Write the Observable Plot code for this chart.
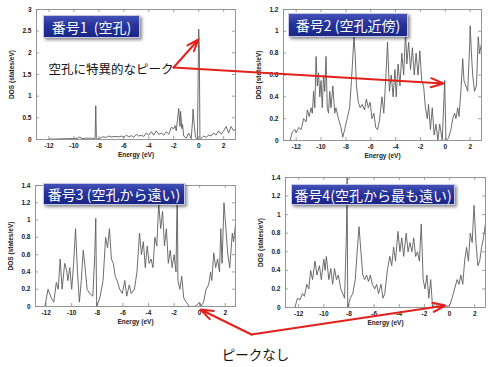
<!DOCTYPE html>
<html><head><meta charset="utf-8">
<script src="https://cdn.jsdelivr.net/npm/d3@7"></script>
<script src="https://cdn.jsdelivr.net/npm/@observablehq/plot@0.6"></script>
<style>
body{margin:0;background:#fff;}
#root{position:relative;width:498px;height:367px;overflow:hidden;background:#fff;}
.panel{position:absolute;}
.title{position:absolute;display:flex;align-items:center;justify-content:center;color:#fff;
 font-family:"Noto Sans CJK JP","Noto Sans";font-size:14px;white-space:pre;box-sizing:border-box;
 background:linear-gradient(to bottom,#4452b8 0%,#26339a 45%,#1a2585 100%);
 border:1px solid #c4c8e6;box-shadow:2px 2px 3px rgba(0,0,0,.45);}
#overlay{position:absolute;left:0;top:0;}
</style></head>
<body><div id="root"></div>
<script>
// ---- data ----
const energy1 = [-12.1,-12.0,-11.5,-11.0,-10.5,-10.0,-9.7,-9.5,-9.4,-9.0,-8.6,-8.3,-8.25,-8.2,-8.15,-8.0,-7.7,-7.4,-7.2,-7.0,-6.7,-6.4,-6.2,-6.0,-5.8,-5.6,-5.4,-5.2,-5.0,-4.8,-4.6,-4.4,-4.2,-4.0,-3.8,-3.6,-3.4,-3.2,-3.0,-2.8,-2.6,-2.4,-2.2,-2.0,-1.9,-1.8,-1.7,-1.6,-1.5,-1.45,-1.35,-1.3,-1.2,-1.0,-0.8,-0.6,-0.5,-0.45,-0.35,-0.25,-0.1,0.0,0.05,0.1,0.2,0.4,0.6,0.8,1.0,1.2,1.4,1.6,1.8,2.0,2.2,2.4,2.6,2.8,2.95];
const dos1 = [0.0,0.01,0.01,0.015,0.02,0.02,0.03,0.06,0.02,0.03,0.03,0.02,0.78,0.05,0.0,0.02,0.06,0.05,0.08,0.06,0.07,0.06,0.08,0.05,0.1,0.06,0.09,0.05,0.12,0.08,0.1,0.07,0.15,0.1,0.18,0.1,0.2,0.12,0.15,0.1,0.18,0.12,0.28,0.25,0.32,0.2,0.45,0.72,0.3,0.65,0.25,0.35,0.08,0.03,0.15,0.02,0.4,0.7,0.3,0.05,0.0,2.55,2.1,0.0,0.03,0.08,0.05,0.1,0.08,0.15,0.1,0.2,0.12,0.2,0.3,0.15,0.3,0.2,0.25];

const energy2 = [-12.5,-12.3,-12.1,-12.0,-11.8,-11.6,-11.4,-11.2,-11.1,-10.95,-10.8,-10.7,-10.6,-10.5,-10.4,-10.3,-10.2,-10.1,-10.0,-9.9,-9.8,-9.7,-9.6,-9.5,-9.4,-9.3,-9.2,-9.05,-8.9,-8.8,-8.6,-8.4,-8.25,-8.1,-7.9,-7.7,-7.55,-7.45,-7.35,-7.25,-7.15,-7.0,-6.85,-6.7,-6.5,-6.35,-6.2,-6.05,-5.9,-5.75,-5.6,-5.45,-5.3,-5.1,-4.95,-4.8,-4.65,-4.5,-4.35,-4.2,-4.05,-3.95,-3.8,-3.65,-3.5,-3.35,-3.2,-3.1,-2.95,-2.8,-2.65,-2.5,-2.35,-2.2,-2.05,-1.9,-1.75,-1.6,-1.45,-1.35,-1.2,-1.05,-0.9,-0.75,-0.6,-0.45,-0.25,-0.05,0.05,0.25,0.45,0.6,0.75,0.85,1.0,1.1,1.25,1.4,1.5,1.65,1.8,1.95,2.0,2.1,2.2,2.35,2.5,2.65,2.75,2.9];
const dos2 = [0.0,0.08,0.1,0.07,0.12,0.1,0.2,0.17,0.28,0.22,0.3,0.25,0.45,0.3,0.77,0.5,0.62,0.4,0.55,0.3,0.6,0.45,0.77,0.3,0.25,0.45,0.3,0.5,0.25,0.3,0.2,0.12,0.03,0.1,0.2,0.3,0.55,0.75,0.95,0.78,0.5,0.35,0.3,0.33,0.28,0.38,0.3,0.35,0.2,0.25,0.12,0.1,0.18,0.4,0.25,0.55,0.9,0.45,0.6,0.4,0.65,0.4,0.7,0.5,0.8,0.6,1.0,0.7,0.9,0.65,0.85,0.6,0.8,0.6,0.82,0.55,0.5,0.3,0.2,0.33,0.1,0.3,0.05,0.15,0.0,0.15,0.0,0.55,0.0,0.02,0.1,0.2,0.25,0.2,0.3,0.22,0.45,0.75,0.55,0.5,0.45,0.85,1.05,0.8,0.6,0.45,0.5,0.95,0.8,0.88];

const energy3 = [-12.1,-11.85,-11.6,-11.4,-11.2,-11.05,-10.9,-10.75,-10.55,-10.4,-10.3,-10.15,-10.0,-9.85,-9.7,-9.55,-9.4,-9.25,-9.1,-8.95,-8.8,-8.6,-8.35,-8.2,-8.12,-8.05,-7.8,-7.55,-7.35,-7.2,-7.05,-6.9,-6.75,-6.6,-6.45,-6.25,-6.05,-5.85,-5.7,-5.5,-5.35,-5.1,-4.9,-4.7,-4.55,-4.4,-4.25,-4.1,-3.95,-3.8,-3.65,-3.5,-3.35,-3.2,-3.05,-2.9,-2.75,-2.6,-2.45,-2.3,-2.15,-2.0,-1.85,-1.75,-1.7,-1.55,-1.4,-1.25,-1.05,-0.8,-0.4,-0.2,0.0,0.1,0.3,0.5,0.7,0.85,0.95,1.1,1.25,1.4,1.55,1.65,1.75,1.9,2.05,2.2,2.35,2.55,2.65,2.8];
const dos3 = [0.0,0.2,0.1,0.05,0.28,0.2,0.55,0.2,0.5,0.42,0.3,0.45,0.2,0.5,0.9,0.4,0.05,0.3,0.65,0.45,0.2,0.15,0.12,0.6,1.02,0.0,0.1,0.3,0.8,0.68,0.9,0.55,0.5,0.35,0.3,0.2,0.15,0.3,0.12,0.25,0.15,0.2,0.4,0.85,0.6,0.75,0.45,0.7,0.5,0.55,0.45,0.8,0.7,1.2,0.9,1.1,0.7,0.9,0.5,0.65,0.45,0.6,0.4,1.4,0.3,0.2,0.35,0.1,0.05,0.0,0.0,0.02,0.05,0.0,0.05,0.2,0.25,0.4,0.3,0.62,0.45,0.55,0.4,0.9,0.5,1.2,0.9,0.6,0.45,0.85,0.75,0.95];

const energy4 = [-12.3,-12.1,-11.9,-11.7,-11.55,-11.35,-11.2,-11.05,-10.9,-10.7,-10.55,-10.35,-10.2,-10.0,-9.9,-9.8,-9.6,-9.45,-9.3,-9.15,-9.0,-8.85,-8.65,-8.35,-8.2,-8.15,-8.1,-7.9,-7.7,-7.5,-7.35,-7.2,-7.05,-6.9,-6.75,-6.6,-6.45,-6.3,-6.15,-5.95,-5.8,-5.65,-5.45,-5.3,-5.15,-4.95,-4.75,-4.6,-4.45,-4.3,-4.1,-3.95,-3.8,-3.65,-3.45,-3.3,-3.15,-3.0,-2.85,-2.7,-2.55,-2.4,-2.25,-2.1,-1.95,-1.8,-1.65,-1.5,-1.35,-1.15,-0.9,-0.3,0.0,0.2,0.4,0.6,0.75,0.9,1.05,1.2,1.35,1.5,1.65,1.8,1.95,2.1,2.25,2.4,2.55,2.7,2.85];
const dos4 = [0.0,0.1,0.08,0.15,0.12,0.25,0.2,0.4,0.3,0.5,0.35,0.45,0.3,0.52,0.4,0.55,0.3,0.42,0.25,0.42,0.3,0.35,0.2,0.1,0.8,1.4,0.0,0.1,0.15,0.3,0.6,0.87,0.6,0.35,0.3,0.35,0.28,0.35,0.25,0.2,0.25,0.15,0.25,0.1,0.15,0.4,0.55,0.45,0.65,0.5,0.82,0.6,0.75,0.55,0.8,0.6,0.7,0.6,0.75,0.55,0.6,0.5,0.9,0.3,0.2,0.35,0.1,0.3,0.0,0.05,0.0,0.0,0.02,0.1,0.2,0.3,0.25,0.35,0.25,0.5,0.65,0.5,0.8,0.7,1.1,0.7,0.45,0.5,0.65,0.75,0.9];

const xTicks = [-12,-10,-8,-6,-4,-2,0,2];
const yTicks1 = [0,0.5,1,1.5,2,2.5,3];
const yTicks2 = [0,0.2,0.4,0.6,0.8,1,1.2];
const yTicks34 = [0,0.2,0.4,0.6,0.8,1,1.2,1.4];

const titles = ["番号1\u00a0\u00a0(空孔)","番号2 (空孔近傍)","番号3 (空孔から遠い)","番号4(空孔から最も遠い)"];
const xLabel = "Energy (eV)";
const yLabel = "DOS (states/eV)";

const noteTexts = ["空孔に特異的なピーク","ピークなし"];
// red annotation arrows (page coordinates)
const arrowX1 = [173,173,251,251];
const arrowY1 = [67,67,334,334];
const arrowX2 = [198,443,200,445];
const arrowY2 = [39,83,309,305];

// ---- layout ----
const root = document.getElementById("root");
const panels = [
 {e:energy1,d:dos1,yt:yTicks1,xd:[-13.0,2.95],yd:[0,3],left:0,top:0,ml:36,mr:10,mt:9,mb:26},
 {e:energy2,d:dos2,yt:yTicks2,xd:[-13.02,2.91],yd:[0,1.2],left:248,top:0,ml:35,mr:12,mt:9,mb:25},
 {e:energy3,d:dos3,yt:yTicks34,xd:[-12.83,2.8],yd:[0,1.4],left:0,top:170,ml:35,mr:10,mt:15,mb:29},
 {e:energy4,d:dos4,yt:yTicks34,xd:[-13.05,2.86],yd:[0,1.4],left:248,top:170,ml:37,mr:8,mt:7,mb:28}
];
const W = 245, H = 165;
panels.forEach(p=>{
  const data = p.e.map((e,i)=>({e, d:p.d[i]}));
  const fw = W-p.ml-p.mr, fh = H-p.mt-p.mb;
  const [x0,x1] = p.xd, ymax = p.yd[1];
  const ty = ymax*3/fh, tx = (x1-x0)*3/fw;
  const chart = Plot.plot({
    width:W,height:H,marginLeft:p.ml,marginRight:p.mr,marginTop:p.mt,marginBottom:p.mb,
    x:{domain:p.xd},y:{domain:p.yd},
    style:{fontFamily:"Liberation Sans, Arial, sans-serif",fontSize:"7px",fontWeight:"bold",color:"#222",background:"transparent"},
    marks:[
      Plot.ruleX(xTicks,{y1:0,y2:ty,stroke:"#888",strokeWidth:0.8}),
      Plot.ruleX(xTicks,{y1:ymax-ty,y2:ymax,stroke:"#888",strokeWidth:0.8}),
      Plot.ruleY(p.yt,{x1:x0,x2:x0+tx,stroke:"#888",strokeWidth:0.8}),
      Plot.ruleY(p.yt,{x1:x1-tx,x2:x1,stroke:"#888",strokeWidth:0.8}),
      Plot.line(data,{x:"e",y:"d",stroke:"#5c5c5c",strokeWidth:0.9}),
      Plot.frame({stroke:"#8a8a8a",strokeWidth:0.9}),
      Plot.axisX({ticks:xTicks,tickSize:0,tickPadding:4,tickFormat:d=>String(d),label:xLabel,labelAnchor:"center",labelArrow:"none",labelOffset:17,fontSize:6.5}),
      Plot.axisY({ticks:p.yt,tickSize:0,tickPadding:5,tickFormat:d=>String(d),label:yLabel,labelAnchor:"center",labelArrow:"none",labelOffset:27,fontSize:6.5})
    ]
  });
  chart.classList.add("panel");
  chart.style.left = p.left+"px"; chart.style.top = p.top+"px";
  root.appendChild(chart);
});

const boxes = [
 {x:43,y:15,w:97,h:23},
 {x:288,y:13,w:120,h:24},
 {x:43,y:183,w:142,h:22},
 {x:291,y:184,w:164,h:21}
];
boxes.forEach((b,i)=>{
  const div = document.createElement("div");
  div.className = "title";
  div.style.left=b.x+"px";div.style.top=b.y+"px";div.style.width=b.w+"px";div.style.height=b.h+"px";
  div.textContent = titles[i];
  root.appendChild(div);
});

const idx = d3.range(arrowX1.length);
const overlay = Plot.plot({
  width:498,height:367,margin:0,
  x:{domain:[0,498],range:[0,498]},y:{domain:[0,367],range:[0,367]},
  axis:null,
  style:{background:"transparent",overflow:"visible"},
  marks:[
    Plot.arrow(idx,{x1:i=>arrowX1[i],y1:i=>arrowY1[i],x2:i=>arrowX2[i],y2:i=>arrowY2[i],stroke:"#e3211c",strokeWidth:2,headLength:10,headAngle:40}),
    Plot.text([noteTexts[0]],{x:48,y:69,text:d=>d,textAnchor:"start",fontSize:12.5,fill:"#111",fontFamily:"Noto Sans CJK JP"}),
    Plot.text([noteTexts[1]],{x:255,y:355,text:d=>d,textAnchor:"middle",fontSize:13.5,fill:"#111",fontFamily:"Noto Sans CJK JP"})
  ]
});
overlay.id="overlay";
root.appendChild(overlay);
</script>
</body></html>
